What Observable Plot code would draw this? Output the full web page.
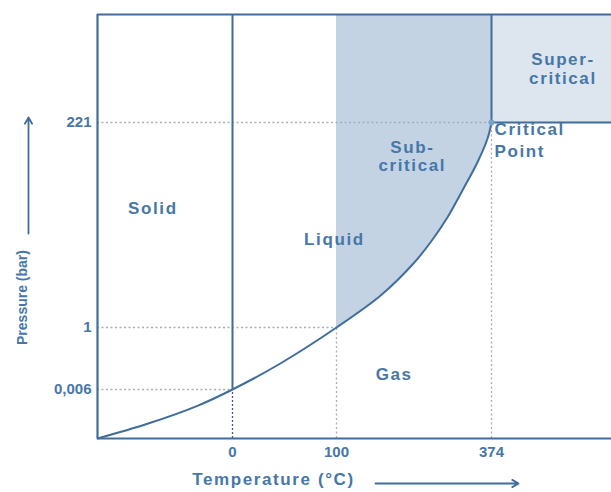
<!DOCTYPE html>
<html>
<head>
<meta charset="utf-8">
<script src="https://cdn.jsdelivr.net/npm/d3@7"></script>
<script src="https://cdn.jsdelivr.net/npm/@observablehq/plot@0.6"></script>
<style>
  html, body { margin: 0; padding: 0; background: #fff; }
</style>
</head>
<body>
<div id="chart"></div>
<script>
// ---- data (schematic phase diagram of water) ----
const xBreaks = [-100, 0, 100, 374, 500];          // temperature (°C) breakpoints of the schematic axis
const xSpans  = [0, 135, 239, 394, 514];           // schematic axis position of each breakpoint
const yBreaks = [0, 0.006, 1, 221, 400];           // pressure (bar) breakpoints of the schematic axis
const ySpans  = [0, 49, 111, 316, 424];
const xTicks = [0, 100, 374];
const xTickLabels = ["0", "100", "374"];
const yTicks = [0.006, 1, 221];
const yTickLabels = ["0,006", "1", "221"];

// sublimation + vaporization curve (T °C, P bar)
const curveT = [-100, -63, -26, 0, 46, 100, 178, 236, 266, 296, 324.5, 349, 367, 374];
const curveP = [0, 0.0018, 0.004, 0.006, 0.423, 1, 35.3, 69.7, 92.2, 119, 150.2, 178.1, 203.8, 221];

const tripleT = 0, tripleP = 0.006;
const boilT = 100, boilP = 1;
const critT = 374, critP = 221;
const xMin = -100, xMax = 500, yMin = 0, yMax = 400;

const regionNames = ["Solid", "Liquid", "Gas", "Sub-\ncritical", "Super-\ncritical"];
const regionT = [-59, 98, 202, 234, 449];
const regionP = [129, 96, 0.26, 185, 310];

// piecewise schematic axes (d3 scales), then Plot's linear scales
const tx = d3.scaleLinear().domain(xBreaks).range(xSpans);
const ty = d3.scaleLinear().domain(yBreaks).range(ySpans);

const curve = curveT.map((t, i) => ({T: t, P: curveP[i]}));
const subcrit = curve.filter(d => d.T >= boilT);
const regions = regionNames.map((n, i) => ({name: n, T: regionT[i], P: regionP[i]}));

const X = d => tx(d.T), Y = d => ty(d.P);

const lineColor = "#3f6d9c";
const textColor = "#4677a8";
const gridColor = "#a7adb5";
const dotted = {stroke: gridColor, strokeDasharray: "2,2.5", strokeWidth: 1.3};

const chart = Plot.plot({
  width: 611,
  height: 492,
  marginLeft: 97,
  marginRight: 0,
  marginTop: 14,
  marginBottom: 54,
  style: {
    color: textColor,
    background: "white",
    fontFamily: "'Liberation Sans', Arial, sans-serif",
    fontSize: "15px",
    fontWeight: "bold",
    letterSpacing: "1px",
    overflow: "visible"
  },
  x: {
    domain: [tx(xMin), tx(xMax)],
    ticks: xTicks.map(tx),
    tickFormat: v => xTickLabels[xTicks.map(tx).indexOf(v)],
    tickSize: 0,
    tickPadding: 8,
    label: null
  },
  y: {
    domain: [ty(yMin), ty(yMax)],
    ticks: yTicks.map(ty),
    tickFormat: v => yTickLabels[yTicks.map(ty).indexOf(v)],
    tickSize: 0,
    tickPadding: 6,
    label: null
  },
  marks: [
    // sub-critical shaded region
    Plot.areaY(subcrit, {x: X, y1: Y, y2: ty(yMax), fill: "#c3d3e4", curve: "catmull-rom"}),
    // super-critical region
    Plot.rect([0], {x1: tx(critT), x2: tx(xMax), y1: ty(critP), y2: ty(yMax), fill: "#dde5ee"}),
    // dotted guide lines
    Plot.ruleY([ty(critP)], {x1: tx(xMin), x2: tx(critT), ...dotted}),
    Plot.ruleY([ty(boilP)], {x1: tx(xMin), x2: tx(boilT), ...dotted}),
    Plot.ruleY([ty(tripleP)], {x1: tx(xMin), x2: tx(tripleT), ...dotted}),
    Plot.ruleX([tx(boilT)], {y1: ty(yMin), y2: ty(boilP), ...dotted}),
    Plot.ruleX([tx(critT)], {y1: ty(yMin), y2: ty(critP), ...dotted}),
    Plot.ruleX([tx(tripleT)], {y1: ty(yMin), y2: ty(tripleP), stroke: "#44597a", strokeDasharray: "2,2", strokeWidth: 1.3}),
    // frame lines
    Plot.ruleX([tx(xMin)], {y1: ty(yMin), y2: ty(yMax), stroke: lineColor, strokeWidth: 2.2}),
    Plot.ruleY([ty(yMax)], {x1: tx(xMin), x2: tx(xMax), stroke: lineColor, strokeWidth: 2.2}),
    Plot.ruleY([ty(yMin)], {x1: tx(xMin), x2: tx(xMax), stroke: lineColor, strokeWidth: 2.2}),
    // melting line
    Plot.ruleX([tx(tripleT)], {y1: ty(tripleP), y2: ty(yMax), stroke: lineColor, strokeWidth: 2}),
    // super-critical boundaries
    Plot.ruleX([tx(critT)], {y1: ty(critP), y2: ty(yMax), stroke: lineColor, strokeWidth: 2}),
    Plot.ruleY([ty(critP)], {x1: tx(critT), x2: tx(xMax), stroke: lineColor, strokeWidth: 2}),
    // phase boundary curve
    Plot.line(curve, {x: X, y: Y, stroke: lineColor, strokeWidth: 2, curve: "catmull-rom"}),
    // critical point
    Plot.dot([0], {x: tx(critT), y: ty(critP), r: 3, fill: "#7aa3cb", stroke: "none"}),
    // region labels
    Plot.text(regions, {x: X, y: Y, text: "name", fill: textColor, fontSize: 17, lineHeight: 1.1}),
    Plot.text(["Critical\nPoint"], {x: tx(critT), y: ty(critP), text: d => d, textAnchor: "start", dx: 3, dy: 16, fill: textColor, fontSize: 17, lineHeight: 1.3}),
    // axis titles
    Plot.text(["Temperature (°C)"], {frameAnchor: "bottom-left", textAnchor: "middle", lineAnchor: "middle", text: d => d, dx: 176, dy: 41, fill: textColor, fontSize: 17}),
    Plot.text(["Pressure (bar)"], {frameAnchor: "left", textAnchor: "middle", lineAnchor: "middle", text: d => d, rotate: -90, dx: -75, dy: 71, fill: textColor, fontSize: 14}),
    // axis arrows (schematic axis units, outside the frame)
    Plot.arrow([0], {x1: 278, x2: 421, y1: -45, y2: -45, stroke: lineColor, strokeWidth: 1.8, headLength: 6}),
    Plot.arrow([0], {x1: -69, x2: -69, y1: 205, y2: 321, stroke: lineColor, strokeWidth: 1.8, headLength: 6})
  ]
});
// tracking: wide for the large horizontal labels (the reference font is set wide), none for the rotated title
chart.querySelectorAll("text").forEach(t => {
  const fs = parseFloat(t.closest("[font-size]")?.getAttribute("font-size") || "15");
  if (fs >= 17) t.style.letterSpacing = "1.6px";
  else if (fs <= 14) t.style.letterSpacing = "0px";
});
document.getElementById("chart").appendChild(chart);
</script>
</body>
</html>
